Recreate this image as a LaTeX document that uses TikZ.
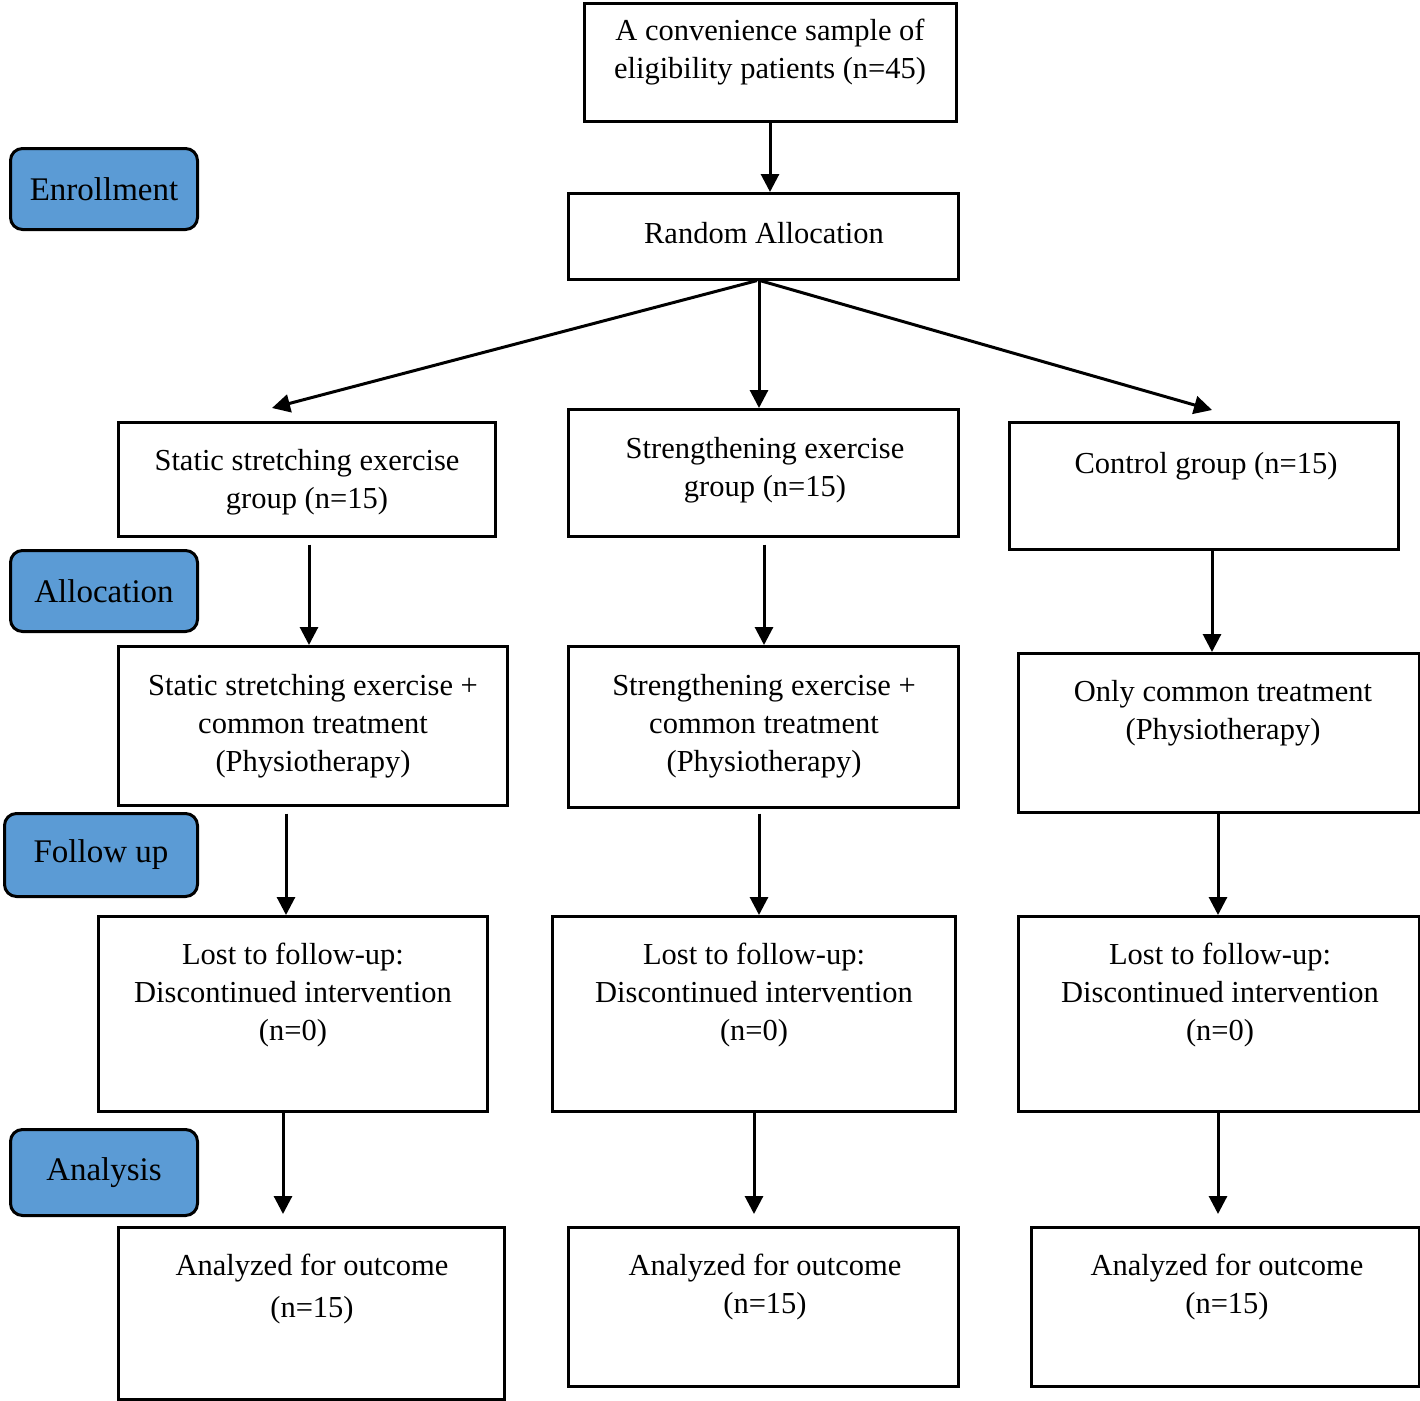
\documentclass[tikz,border=0pt]{standalone}
\usepackage{fontspec}
\setmainfont{Liberation Serif}
\usetikzlibrary{arrows.meta}
\definecolor{stageblue}{HTML}{5B9BD5}
\begin{document}
\begin{tikzpicture}[x=1pt,y=-1pt,
  box/.style={draw=black, line width=2.6pt, inner sep=0pt, anchor=north west},
  txt/.style={align=center, inner sep=0pt, font=\fontsize{30.5}{38}\selectfont},
  stage/.style={draw=black, line width=3pt, rounded corners=12pt, fill=stageblue, inner sep=0pt, anchor=north west, font=\fontsize{33}{38}\selectfont},
  arr/.style={line width=3pt, -{Triangle[length=18pt,width=18pt]}}]
\useasboundingbox (0,0) rectangle (1420,1400);
% stage labels
\node[stage, minimum width=187pt, minimum height=81pt] (s1) at (9,147) {Enrollment};
\node[stage, minimum width=187pt, minimum height=81pt] (s2) at (9,549) {Allocation};
\node[stage, minimum width=193pt, minimum height=83pt] (s3) at (3,812) {Follow up};
\node[stage, minimum width=187pt, minimum height=86pt] (s4) at (9,1128) {Analysis};
% boxes
\node[box, minimum width=372pt, minimum height=118pt] (b1) at (583,2) {};
\node[txt] (t1) at (770,52) {A convenience sample of\\eligibility patients (n=45)};
\node[box, minimum width=390pt, minimum height=86pt] (b2) at (567,192) {};
\node[txt] (t2) at (764,233) {Random Allocation};
\node[box, minimum width=377pt, minimum height=114pt] (b3) at (117,421) {};
\node[txt] (t3) at (307,482) {Static stretching exercise\\group (n=15)};
\node[box, minimum width=390pt, minimum height=127pt] (b4) at (567,408) {};
\node[txt] (t4) at (765,470) {Strengthening exercise\\group (n=15)};
\node[box, minimum width=389pt, minimum height=127pt] (b5) at (1008,421) {};
\node[txt] (t5) at (1206,466) {Control group (n=15)};
\node[box, minimum width=389pt, minimum height=159pt] (b6) at (117,645) {};
\node[txt] (t6) at (313,726) {Static stretching exercise +\\common treatment\\(Physiotherapy)};
\node[box, minimum width=390pt, minimum height=161pt] (b7) at (567,645) {};
\node[txt] (t7) at (764,726) {Strengthening exercise +\\common treatment\\(Physiotherapy)};
\node[box, minimum width=401pt, minimum height=159pt] (b8) at (1017,652) {};
\node[txt] (t8) at (1223,713) {Only common treatment\\(Physiotherapy)};
\node[box, minimum width=389pt, minimum height=195pt] (b9) at (97,915) {};
\node[txt] (t9) at (293,995) {Lost to follow-up:\\Discontinued intervention\\(n=0)};
\node[box, minimum width=403pt, minimum height=195pt] (b10) at (551,915) {};
\node[txt] (t10) at (754,995) {Lost to follow-up:\\Discontinued intervention\\(n=0)};
\node[box, minimum width=401pt, minimum height=195pt] (b11) at (1017,915) {};
\node[txt] (t11) at (1220,995) {Lost to follow-up:\\Discontinued intervention\\(n=0)};
\node[box, minimum width=386pt, minimum height=172pt] (b12) at (117,1226) {};
\node[txt] (t12) at (312,1289) {Analyzed for outcome\\[4pt](n=15)};
\node[box, minimum width=390pt, minimum height=159pt] (b13) at (567,1226) {};
\node[txt] (t13) at (765,1287) {Analyzed for outcome\\(n=15)};
\node[box, minimum width=388pt, minimum height=159pt] (b14) at (1030,1226) {};
\node[txt] (t14) at (1227,1287) {Analyzed for outcome\\(n=15)};
% arrows
\draw[arr] (b1.south -| 770,0) -- (b2.north -| 770,0);
\draw[arr] (b2.south -| 757,0) -- (272,408);
\draw[arr] (b2.south -| 759,0) -- (b4.north -| 759,0);
\draw[arr] (b2.south -| 760,0) -- (1212,410);
\draw[arr] ([yshift=-7pt]b3.south -| 309,0) -- (b6.north -| 309,0);
\draw[arr] ([yshift=-7pt]b4.south -| 764,0) -- (b7.north -| 764,0);
\draw[arr] (b5.south -| 1212,0) -- (b8.north -| 1212,0);
\draw[arr] ([yshift=-7pt]b6.south -| 286,0) -- (b9.north -| 286,0);
\draw[arr] ([yshift=-5pt]b7.south -| 759,0) -- (b10.north -| 759,0);
\draw[arr] (b8.south -| 1218,0) -- (b11.north -| 1218,0);
\draw[arr] (b9.south -| 283,0) -- ([yshift=12pt]b12.north -| 283,0);
\draw[arr] (b10.south -| 754,0) -- ([yshift=12pt]b13.north -| 754,0);
\draw[arr] (b11.south -| 1218,0) -- ([yshift=12pt]b14.north -| 1218,0);
\end{tikzpicture}
\end{document}
